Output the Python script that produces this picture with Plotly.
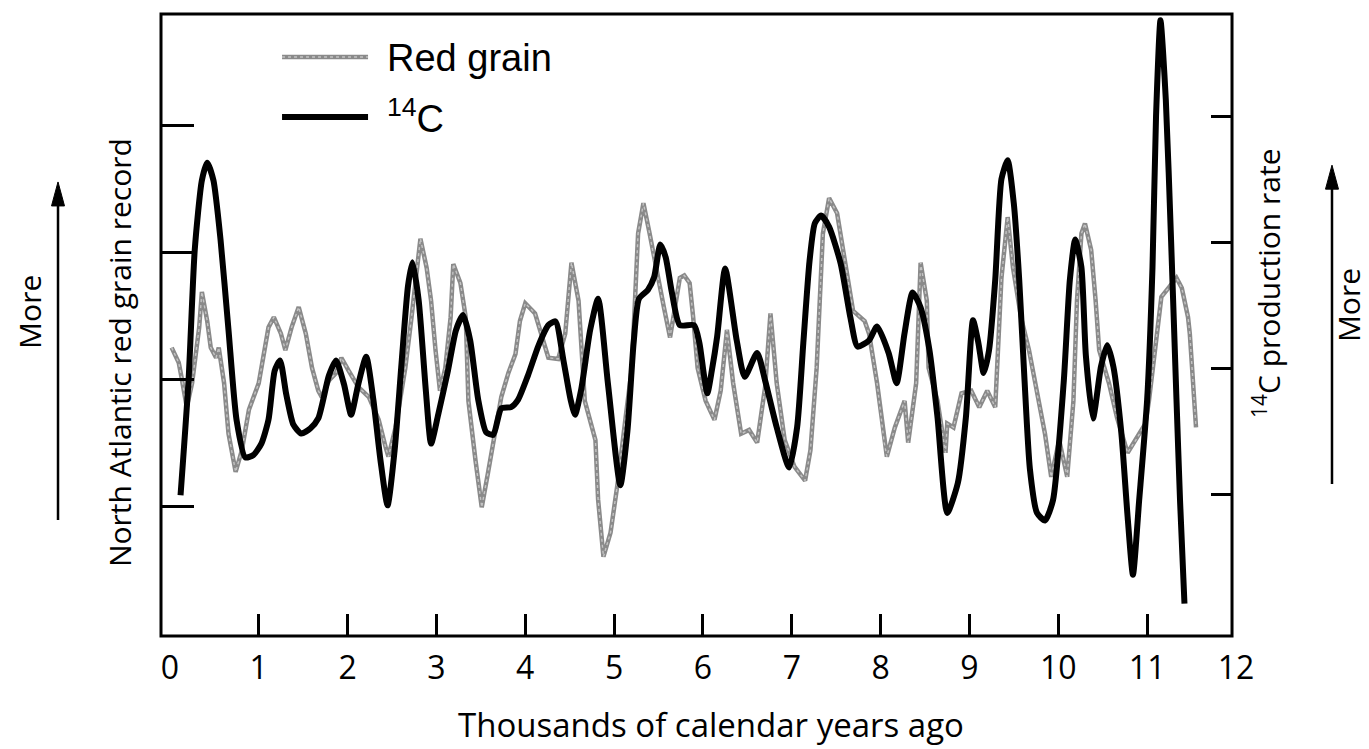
import plotly.graph_objects as go

# ---- data (thousands of calendar years ago, relative index units) ----
x_labels = [str(i) for i in range(13)]
x_label_vals = list(range(13))
x_minor_ticks = list(range(1, 12))
left_ticks = [1, 2, 3, 4]
right_ticks = [1, 2, 3, 4]

red_x = [0.02, 0.10, 0.13, 0.19, 0.25, 0.33, 0.36, 0.42, 0.46, 0.52,
         0.55, 0.61, 0.66, 0.74, 0.81, 0.89, 1.00, 1.11, 1.17, 1.25,
         1.30, 1.37, 1.45, 1.53, 1.60, 1.67, 1.71, 1.79, 1.87, 1.93,
         2.01, 2.12, 2.24, 2.35, 2.43, 2.46, 2.54, 2.65, 2.72, 2.82,
         2.89, 2.94, 2.99, 3.04, 3.10, 3.16, 3.19, 3.27, 3.33, 3.36,
         3.44, 3.51, 3.58, 3.66, 3.73, 3.81, 3.89, 3.94, 4.00, 4.11,
         4.18, 4.26, 4.37, 4.45, 4.52, 4.60, 4.67, 4.79, 4.82, 4.88,
         4.96, 5.04, 5.13, 5.20, 5.27, 5.33, 5.40, 5.47, 5.56, 5.63,
         5.67, 5.74, 5.79, 5.85, 5.89, 5.94, 6.03, 6.13, 6.20, 6.27,
         6.34, 6.43, 6.52, 6.61, 6.70, 6.76, 6.83, 6.92, 7.03, 7.15,
         7.21, 7.28, 7.35, 7.42, 7.51, 7.60, 7.69, 7.82, 7.87, 7.96,
         8.04, 8.07, 8.16, 8.27, 8.31, 8.40, 8.45, 8.52, 8.54, 8.64,
         8.73, 8.75, 8.82, 8.91, 9.02, 9.11, 9.20, 9.29, 9.36, 9.43,
         9.49, 9.58, 9.67, 9.76, 9.85, 9.92, 10.01, 10.10, 10.17, 10.21,
         10.26, 10.30, 10.37, 10.42, 10.46, 10.57, 10.66, 10.78, 10.89, 10.98,
         11.02, 11.11, 11.16, 11.33, 11.39, 11.46, 11.48, 11.55]
red_y = [2.25, 2.13, 2.02, 1.78, 1.97, 2.41, 2.69, 2.46, 2.25, 2.17,
         2.25, 1.97, 1.57, 1.27, 1.44, 1.76, 1.97, 2.41, 2.49, 2.36,
         2.23, 2.41, 2.57, 2.36, 2.09, 1.91, 1.86, 1.99, 2.05, 2.17,
         2.07, 1.94, 1.86, 1.68, 1.46, 1.39, 1.62, 2.09, 2.49, 3.11,
         2.88, 2.62, 2.23, 1.91, 2.09, 2.49, 2.91, 2.76, 2.49, 1.83,
         1.36, 0.99, 1.26, 1.57, 1.86, 2.05, 2.20, 2.46, 2.60, 2.52,
         2.36, 2.17, 2.16, 2.36, 2.92, 2.62, 1.83, 1.52, 1.05, 0.60,
         0.79, 1.18, 1.70, 2.09, 3.15, 3.39, 3.15, 2.88, 2.57, 2.33,
         2.52, 2.80, 2.82, 2.76, 2.49, 2.09, 1.83, 1.68, 1.91, 2.39,
         1.97, 1.57, 1.60, 1.50, 1.94, 2.52, 1.97, 1.52, 1.31, 1.20,
         1.44, 2.09, 3.15, 3.43, 3.31, 2.94, 2.54, 2.46, 2.36, 1.97,
         1.50, 1.39, 1.62, 1.83, 1.50, 1.97, 2.92, 2.62, 2.09, 1.83,
         1.42, 1.65, 1.62, 1.89, 1.91, 1.78, 1.91, 1.78, 2.80, 3.28,
         2.88, 2.49, 2.23, 1.89, 1.57, 1.23, 1.52, 1.23, 1.83, 2.62,
         3.15, 3.23, 3.02, 2.62, 2.23, 1.97, 1.70, 1.42, 1.54, 1.65,
         1.83, 2.36, 2.65, 2.80, 2.72, 2.49, 2.36, 1.62]

c14_x = [0.12, 0.21, 0.28, 0.36, 0.42, 0.49, 0.57, 0.66, 0.75, 0.85,
         0.94, 1.03, 1.11, 1.18, 1.24, 1.31, 1.39, 1.48, 1.58, 1.67,
         1.79, 1.87, 1.96, 2.04, 2.12, 2.21, 2.29, 2.37, 2.45, 2.53,
         2.61, 2.68, 2.73, 2.80, 2.88, 2.94, 3.02, 3.13, 3.22, 3.30,
         3.38, 3.47, 3.56, 3.64, 3.73, 3.84, 3.92, 4.03, 4.15, 4.26,
         4.34, 4.43, 4.51, 4.56, 4.63, 4.73, 4.82, 4.93, 5.07, 5.15,
         5.22, 5.28, 5.38, 5.45, 5.52, 5.58, 5.65, 5.74, 5.90, 5.96,
         6.01, 6.05, 6.10, 6.16, 6.25, 6.38, 6.47, 6.61, 6.70, 6.83,
         6.97, 7.06, 7.13, 7.20, 7.26, 7.33, 7.42, 7.55, 7.66, 7.74,
         7.87, 7.96, 8.09, 8.18, 8.27, 8.36, 8.45, 8.55, 8.64, 8.75,
         8.87, 8.96, 9.04, 9.10, 9.16, 9.22, 9.29, 9.36, 9.43, 9.50,
         9.56, 9.62, 9.68, 9.76, 9.85, 9.94, 10.06, 10.13, 10.19, 10.26,
         10.31, 10.39, 10.48, 10.55, 10.62, 10.71, 10.78, 10.84, 10.91, 11.00,
         11.06, 11.10, 11.15, 11.21, 11.27, 11.33, 11.37, 11.42]
c14_y = [0.99, 1.90, 2.94, 3.49, 3.63, 3.49, 3.02, 2.30, 1.59, 1.29,
         1.31, 1.40, 1.59, 1.98, 2.06, 1.79, 1.55, 1.48, 1.52, 1.60,
         1.94, 2.06, 1.87, 1.63, 1.87, 2.09, 1.75, 1.27, 0.91, 1.35,
         2.06, 2.65, 2.84, 2.54, 1.83, 1.40, 1.63, 1.98, 2.30, 2.42,
         2.22, 1.75, 1.49, 1.47, 1.68, 1.69, 1.75, 1.94, 2.18, 2.34,
         2.37, 2.06, 1.75, 1.63, 1.83, 2.30, 2.55, 1.88, 1.07, 1.50,
         2.20, 2.55, 2.62, 2.72, 2.98, 2.88, 2.60, 2.34, 2.34, 2.20,
         1.95, 1.80, 1.98, 2.25, 2.79, 2.22, 1.93, 2.12, 1.90, 1.53,
         1.21, 1.53, 2.20, 2.85, 3.15, 3.21, 3.12, 2.83, 2.40, 2.17,
         2.22, 2.33, 2.12, 1.88, 2.28, 2.60, 2.48, 2.14, 1.61, 0.85,
         1.09, 1.61, 2.38, 2.20, 1.96, 2.14, 2.70, 3.50, 3.65, 3.30,
         2.70, 1.90, 1.20, 0.85, 0.79, 0.95, 1.88, 2.70, 3.02, 2.80,
         2.10, 1.60, 2.01, 2.18, 2.01, 1.48, 0.82, 0.36, 0.95, 1.75,
         2.80, 4.00, 4.76, 4.13, 3.00, 1.75, 0.95, 0.13]

GRAY = "#8a8a8a"
GRAY_HI = "#c4c4c4"
TXT_FONT = "Open Sans"

fig = go.Figure()
# Red grain: textured grey line (base + light dotted core)
fig.add_trace(go.Scatter(x=red_x, y=red_y, mode="lines", yaxis="y",
                         line=dict(color=GRAY, width=4.5), showlegend=False,
                         name="Red grain"))
fig.add_trace(go.Scatter(x=red_x, y=red_y, mode="lines", yaxis="y",
                         line=dict(color=GRAY_HI, width=1.4, dash="dot"), showlegend=False,
                         hoverinfo="skip"))
fig.add_trace(go.Scatter(x=c14_x, y=c14_y, mode="lines", yaxis="y2",
                         line=dict(color="black", width=6, shape="spline", smoothing=0.6),
                         showlegend=False, name="14C"))

RIGHT_POS = 0.9963

fig.update_layout(
    width=1369, height=749,
    margin=dict(l=161, r=133, t=14, b=113, pad=0),
    paper_bgcolor="white", plot_bgcolor="white",
    showlegend=False,
    xaxis=dict(range=[-0.1, 12.0], tickmode="array", tickvals=x_label_vals, ticktext=x_labels,
               ticks="", showline=False, showgrid=False, zeroline=False,
               tickfont=dict(family=TXT_FONT, size=32, color="black"),
               ticklabelstandoff=10,
               minor=dict(tickmode="array", tickvals=x_minor_ticks, ticks="inside",
                          ticklen=22, tickwidth=2.5, tickcolor="black", showgrid=False)),
    yaxis=dict(range=[-0.026, 4.883], tickmode="array", tickvals=left_ticks,
               ticks="inside", ticklen=33, tickwidth=2.5, tickcolor="black",
               showticklabels=False, showline=False, showgrid=False, zeroline=False),
    yaxis2=dict(range=[-0.127, 4.81], tickmode="array", tickvals=right_ticks,
                overlaying="y", side="right", anchor="free", position=RIGHT_POS,
                ticks="inside", ticklen=21, tickwidth=2.5, tickcolor="black",
                showticklabels=False, showline=False, showgrid=False, zeroline=False),
)

# frame
fig.add_shape(type="rect", xref="paper", yref="paper", x0=0, x1=RIGHT_POS, y0=0, y1=1,
              line=dict(color="black", width=3), layer="above")

# legend (drawn manually to match long sample lines)
fig.add_shape(type="line", xref="paper", yref="paper", x0=0.1126, x1=0.1926, y0=0.9309, y1=0.9309,
              line=dict(color=GRAY, width=4.5))
fig.add_shape(type="line", xref="paper", yref="paper", x0=0.1126, x1=0.1926, y0=0.9309, y1=0.9309,
              line=dict(color=GRAY_HI, width=1.4, dash="dot"))
fig.add_shape(type="line", xref="paper", yref="paper", x0=0.1126, x1=0.1926, y0=0.8344, y1=0.8344,
              line=dict(color="black", width=6))

# arrows drawn as shaft + filled head
def add_arrow(xp, y_tail, y_tip):
    dx = 6.5 / 1075
    dy = 24 / 622
    fig.add_shape(type="line", xref="paper", yref="paper", x0=xp, x1=xp, y0=y_tail, y1=y_tip - dy * 0.6,
                  line=dict(color="black", width=2.5))
    fig.add_shape(type="path", xref="paper", yref="paper",
                  path=f"M {xp - dx} {y_tip - dy} L {xp} {y_tip} L {xp + dx} {y_tip - dy} Z",
                  fillcolor="black", line=dict(color="black", width=1))

add_arrow(-0.0958, 0.1865, 0.730)
add_arrow(1.0893, 0.2444, 0.757)

ann = []
ann.append(dict(text="Red grain", x=0.2084, y=0.929, xref="paper", yref="paper",
                xanchor="left", yanchor="middle", showarrow=False,
                font=dict(family="Liberation Sans, Arial", size=38, color="black")))
ann.append(dict(text="<sup>14</sup>C", x=0.2084, y=0.836, xref="paper", yref="paper",
                xanchor="left", yanchor="middle", showarrow=False,
                font=dict(family="Liberation Sans, Arial", size=38, color="black")))
# axis titles
ann.append(dict(text="Thousands of calendar years ago", x=0.5116, y=-0.142, xref="paper", yref="paper",
                xanchor="center", yanchor="middle", showarrow=False,
                font=dict(family=TXT_FONT, size=33, color="black")))
ann.append(dict(text="North Atlantic red grain record", x=-0.0381, y=0.455, xref="paper", yref="paper",
                xanchor="center", yanchor="middle", showarrow=False, textangle=-90,
                font=dict(family=TXT_FONT, size=30, color="black")))
ann.append(dict(text="More", x=-0.1219, y=0.521, xref="paper", yref="paper",
                xanchor="center", yanchor="middle", showarrow=False, textangle=-90,
                font=dict(family=TXT_FONT, size=30, color="black")))
ann.append(dict(text="<sup>14</sup>C production rate", x=1.0288, y=0.5675, xref="paper", yref="paper",
                xanchor="center", yanchor="middle", showarrow=False, textangle=-90,
                font=dict(family=TXT_FONT, size=30, color="black")))
ann.append(dict(text="More", x=1.1042, y=0.532, xref="paper", yref="paper",
                xanchor="center", yanchor="middle", showarrow=False, textangle=-90,
                font=dict(family=TXT_FONT, size=30, color="black")))
fig.update_layout(annotations=ann)

fig.write_html("out.html")
